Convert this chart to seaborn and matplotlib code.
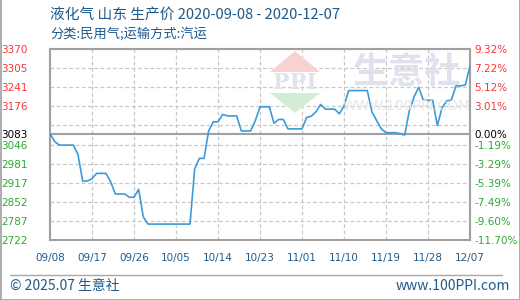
import matplotlib
matplotlib.use("Agg")
import matplotlib.pyplot as plt
import seaborn as sns
import numpy as np
import pandas as pd
from matplotlib.patches import Polygon
from matplotlib.lines import Line2D

# ---------------- data ----------------
prices = [3083, 3056, 3044, 3044, 3044, 3044, 3012, 2922, 2922, 2930,
          2948, 2948, 2948, 2919, 2878, 2878, 2878, 2867, 2867, 2894,
          2800, 2776, 2776, 2776, 2776, 2776, 2776, 2776, 2776, 2776,
          2776, 2963, 2999, 2999, 3092, 3123, 3123, 3148, 3143, 3143,
          3143, 3092, 3092, 3092, 3127, 3174, 3174, 3174, 3118, 3131,
          3131, 3099, 3099, 3099, 3099, 3138, 3142, 3157, 3182, 3166,
          3166, 3166, 3150, 3177, 3229, 3229, 3229, 3229, 3229, 3156,
          3127, 3099, 3086, 3086, 3086, 3083, 3078, 3161, 3207, 3240,
          3196, 3196, 3196, 3110, 3170, 3194, 3197, 3245, 3245, 3248,
          3313]
days = list(range(len(prices)))
base_price = 3083
x_tick_pos = [0, 9, 18, 27, 36, 45, 54, 63, 72, 81, 90]
x_tick_labels = ["09/08", "09/17", "09/26", "10/05", "10/14", "10/23",
                 "11/01", "11/10", "11/19", "11/28", "12/07"]
y_tick_vals = [3370, 3305, 3241, 3176, 3083, 3046, 2981, 2917, 2852, 2787, 2722]
y_tick_labels = ["3370", "3305", "3241", "3176", "3083", "3046", "2981",
                 "2917", "2852", "2787", "2722"]
pct_labels = ["9.32%", "7.22%", "5.12%", "3.01%", "0.00%", "-1.19%", "-3.29%",
              "-5.39%", "-7.49%", "-9.60%", "-11.70%"]
grid_levels = [3305.2, 3240.4, 3175.6, 3110.8, 3046.0, 2981.2, 2916.4, 2851.6, 2786.8]
title = "液化气 山东 生产价 2020-09-08 - 2020-12-07"
subtitle = "分类:民用气;运输方式:汽运"

df = pd.DataFrame({"day": days, "price": prices})

# ---------------- style ----------------
sns.set_style("white")
plt.rcParams["font.family"] = ["Noto Sans CJK SC", "DejaVu Sans"]

W, H = 520, 300
fig = plt.figure(figsize=(W / 100, H / 100), dpi=100)
L, R, T, B = 50, 470, 49, 240
ax = fig.add_axes([L / W, 1 - B / H, (R - L) / W, (B - T) / H])

RED = "#ff3333"
GREEN = "#2fa82f"
BLUE_TXT = "#1f5a8c"
GRID = "#c8c8c8"
SPINE = "#a0a0a0"

def fx(px):
    return px / W

def fy(py):
    return 1 - py / H

# watermark (drawn behind)
fig.patches.append(Polygon([[fx(295), fy(51)], [fx(270), fy(72)], [fx(320), fy(72)]],
                           closed=True, transform=fig.transFigure,
                           facecolor="#f6d3d0", edgecolor="none", zorder=0))
fig.patches.append(Polygon([[fx(270), fy(93)], [fx(320), fy(93)], [fx(295), fy(113)]],
                           closed=True, transform=fig.transFigure,
                           facecolor="#d3ecd6", edgecolor="none", zorder=0))
fig.text(fx(295), fy(83), "PPI", ha="center", va="center", fontsize=16,
         family=["DejaVu Serif"], color="#dfe3ee", fontweight="bold", zorder=0)
fig.text(fx(407), fy(72), "生意社", ha="center", va="center", fontsize=26,
         color="#dfe2ec", fontweight="bold", zorder=0)
fig.text(fx(407), fy(106), "WWW.100PPI.COM", ha="center", va="center", fontsize=10,
         family=["DejaVu Sans"], color="#e6e6e6", zorder=0)
ax.patch.set_alpha(0)

# grid
for g in grid_levels:
    ax.axhline(g, color=GRID, lw=0.9, ls=(0, (3, 2)), zorder=1)
for xp in x_tick_pos[1:-1]:
    ax.axvline(xp, color=GRID, lw=0.9, ls=(0, (3, 2)), zorder=1)
ax.axhline(base_price, color=SPINE, lw=1.5, zorder=2)

sns.lineplot(data=df, x="day", y="price", ax=ax, color="#3b9bda", lw=1.2, zorder=3)

ax.set_xlim(0, 90)
ax.set_ylim(2722, 3370)
ax.set_xlabel("")
ax.set_ylabel("")
ax.set_xticks(x_tick_pos)
ax.set_xticklabels(x_tick_labels, family=["DejaVu Sans"], fontsize=7.5, color=BLUE_TXT)
ax.set_yticks(y_tick_vals)
ax.set_yticklabels(y_tick_labels, family=["DejaVu Sans"], fontsize=7.5)
ax.tick_params(axis="both", length=0)
ax.tick_params(axis="x", pad=9)
ax.tick_params(axis="y", pad=16)
for lab, v in zip(ax.get_yticklabels(), y_tick_vals):
    lab.set_color(RED if v > base_price else ("black" if v == base_price else GREEN))
for s in ax.spines.values():
    s.set_color(SPINE)
    s.set_linewidth(1.5)

ax2 = ax.twinx()
ax2.set_ylim(ax.get_ylim())
ax2.set_yticks(y_tick_vals)
ax2.set_yticklabels(pct_labels, family=["DejaVu Sans"], fontsize=7.5)
ax2.tick_params(axis="y", length=0, pad=3)
for lab, v in zip(ax2.get_yticklabels(), y_tick_vals):
    lab.set_color(RED if v > base_price else ("black" if v == base_price else GREEN))
for s in ax2.spines.values():
    s.set_visible(False)

# titles
fig.text(fx(50), fy(15), title, ha="left", va="center", fontsize=10.6, color=BLUE_TXT)
fig.text(fx(50), fy(34), subtitle, ha="left", va="center", fontsize=9.5, color=BLUE_TXT)

# footer
fig.add_artist(Line2D([fx(10), fx(502)], [fy(275), fy(275)], transform=fig.transFigure,
                      color="#a8a8a8", lw=1))
fig.text(fx(10), fy(286), "© 2025.07 生意社", ha="left", va="center", fontsize=10,
         color=BLUE_TXT)
fig.text(fx(510), fy(286), "www.100PPI.com", ha="right", va="center", fontsize=10,
         color=BLUE_TXT)

# outer frame
for xs, ys in [([fx(0.5), fx(0.5)], [0, 1]), ([fx(519.5), fx(519.5)], [0, 1]),
               ([0, 1], [fy(299.5), fy(299.5)])]:
    fig.add_artist(Line2D(xs, ys, transform=fig.transFigure, color="#a0a0a0", lw=1.2))

fig.savefig("out.png", dpi=100)
